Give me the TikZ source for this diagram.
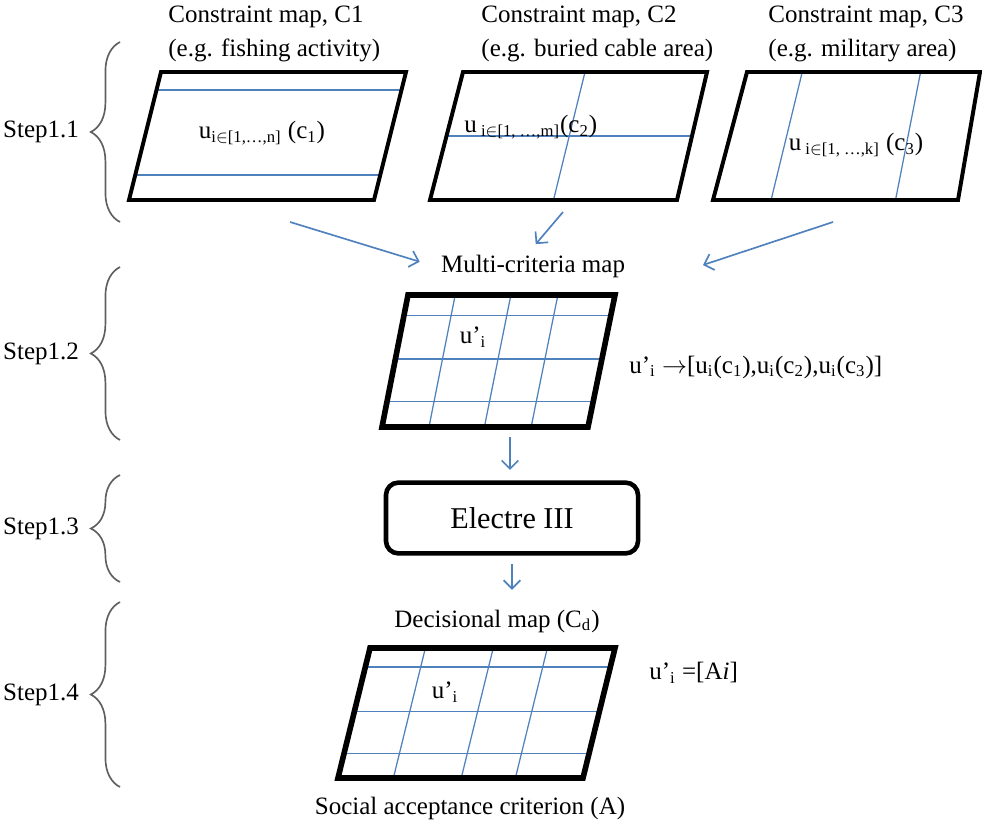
\documentclass[tikz,border=0pt]{standalone}
\usepackage{fontspec}
\setmainfont{Liberation Serif}
\usetikzlibrary{arrows.meta,calc,decorations.pathreplacing}
\definecolor{gridblue}{RGB}{79,129,189}
\definecolor{bracegray}{RGB}{95,95,95}

\begin{document}
\begin{tikzpicture}[x=0.48pt, y=-0.48pt,
  font=\fontsize{12}{15.8}\selectfont,
  mapframe/.style={line width=1.9pt, line join=miter},
  bigframe/.style={line width=2.7pt, line join=miter},
  gridline/.style={gridblue, line width=0.6pt},
  flow/.style={gridblue, line width=0.8pt, -{Straight Barb[length=4pt,width=8pt]}},
  stepbrace/.style={bracegray, line width=0.8pt, decorate, decoration={brace, amplitude=14pt}},
  steplabel/.style={midway, left=16pt, text=black},
  maptitle/.style={anchor=north west, align=left, inner sep=0pt, font=\fontsize{12}{16.3}\selectfont}]
\useasboundingbox (0,0) rectangle (982,825);

% steps
\draw[stepbrace] (120,222) -- (120,42) node[steplabel] (s11) {Step1.1};
\draw[stepbrace] (120,440) -- (120,267) node[steplabel] (s12) {Step1.2};
\draw[stepbrace] (120,582) -- (120,475) node[steplabel] (s13) {Step1.3};
\draw[stepbrace] (120,787) -- (120,602) node[steplabel] (s14) {Step1.4};

% constraint maps
\node[maptitle] (t1) at (168,6) {Constraint map, C1\\(e.g. fishing activity)};
\node[maptitle] (t2) at (481,6) {Constraint map, C2\\(e.g. buried cable area)};
\node[maptitle] (t3) at (768,6) {Constraint map, C3\\(e.g. military area)};

\coordinate (c1nw) at (161,72); \coordinate (c1ne) at (406,72);
\coordinate (c1se) at (374,200); \coordinate (c1sw) at (129,200);
\foreach \f in {0.14,0.805}
  \draw[gridline] ($(c1nw)!\f!(c1sw)$) -- ($(c1ne)!\f!(c1se)$);
\draw[mapframe] (c1nw) -- (c1ne) -- (c1se) -- (c1sw) -- cycle;
\node (u1) at (262,133) {u\textsubscript{i$\in$[1,…,n]} (c\textsubscript{1})};

\coordinate (c2nw) at (463,72); \coordinate (c2ne) at (707,72);
\coordinate (c2se) at (677,200); \coordinate (c2sw) at (430,200);
\draw[gridline] ($(c2nw)!0.5!(c2sw)$) -- ($(c2ne)!0.5!(c2se)$);
\draw[gridline] ($(c2nw)!0.5!(c2ne)$) -- ($(c2sw)!0.5!(c2se)$);
\draw[mapframe] (c2nw) -- (c2ne) -- (c2se) -- (c2sw) -- cycle;
\node[anchor=west, inner sep=0pt] (u2) at (464,127) {u\textsubscript{ i$\in$[1, …,m]}(c\textsubscript{2})};

\coordinate (c3nw) at (747,72); \coordinate (c3ne) at (980,72);
\coordinate (c3se) at (958,200); \coordinate (c3sw) at (713,200);
\foreach \f in {0.237,0.745}
  \draw[gridline] ($(c3nw)!\f!(c3ne)$) -- ($(c3sw)!\f!(c3se)$);
\draw[mapframe] (c3nw) -- (c3ne) -- (c3se) -- (c3sw) -- cycle;
\node (u3) at (856,145) {u\textsubscript{ i$\in$[1, …,k]} (c\textsubscript{3})};

% multi-criteria map
\node (multi) at (533,266) {Multi-criteria map};
\coordinate (c1out) at (290,222);
\coordinate (c2out) at (563,212);
\coordinate (c3out) at (833,222);
\coordinate (c3in) at (703,265);
\draw[flow, shorten >=7pt] (c1out) -- (multi.west);
\draw[flow, shorten >=2pt] (c2out) -- (multi.north);
\draw[flow] (c3out) -- (c3in);

\coordinate (mnw) at (408,295); \coordinate (mne) at (615,295);
\coordinate (mse) at (588,427); \coordinate (msw) at (382,427);
\foreach \f in {0.155,0.485,0.805}
  \draw[gridline] ($(mnw)!\f!(msw)$) -- ($(mne)!\f!(mse)$);
\foreach \f in {0.228,0.497,0.724}
  \draw[gridline] ($(mnw)!\f!(mne)$) -- ($(msw)!\f!(mse)$);
\draw[bigframe] (mnw) -- (mne) -- (mse) -- (msw) -- cycle;
\node (um) at (473,337) {u’\textsubscript{i}};
\node[anchor=west] (vector) at (622,367) {u’\textsubscript{i} $\rightarrow$[u\textsubscript{i}(c\textsubscript{1}),u\textsubscript{i}(c\textsubscript{2}),u\textsubscript{i}(c\textsubscript{3})]};

% electre
\node[draw, line width=2.2pt, rounded corners=6pt, minimum width=121pt, minimum height=34pt,
  font=\fontsize{14.5}{17}\selectfont] (electre) at (512,518) {Electre III};
\coordinate (mout) at (510,437);
\draw[flow, shorten >=5pt] (mout) -- (mout |- electre.north);

% decisional map
\node (decision) at (497,621) {Decisional map (C\textsubscript{d})};
\draw[flow, shorten <=4pt, shorten >=6pt] (electre.south) -- (electre.south |- decision.north);

\coordinate (bnw) at (370,648); \coordinate (bne) at (615,648);
\coordinate (bse) at (583,778); \coordinate (bsw) at (338,778);
\foreach \f in {0.146,0.49,0.81}
  \draw[gridline] ($(bnw)!\f!(bsw)$) -- ($(bne)!\f!(bse)$);
\foreach \f in {0.226,0.503,0.724}
  \draw[gridline] ($(bnw)!\f!(bne)$) -- ($(bsw)!\f!(bse)$);
\draw[bigframe] (bnw) -- (bne) -- (bse) -- (bsw) -- cycle;
\node (ub) at (445,692) {u’\textsubscript{i}};
\node[anchor=west] (accept) at (642,673) {u’\textsubscript{i} =[A\textit{i}]};
\node (social) at (470,808) {Social acceptance criterion (A)};
\end{tikzpicture}
\end{document}
